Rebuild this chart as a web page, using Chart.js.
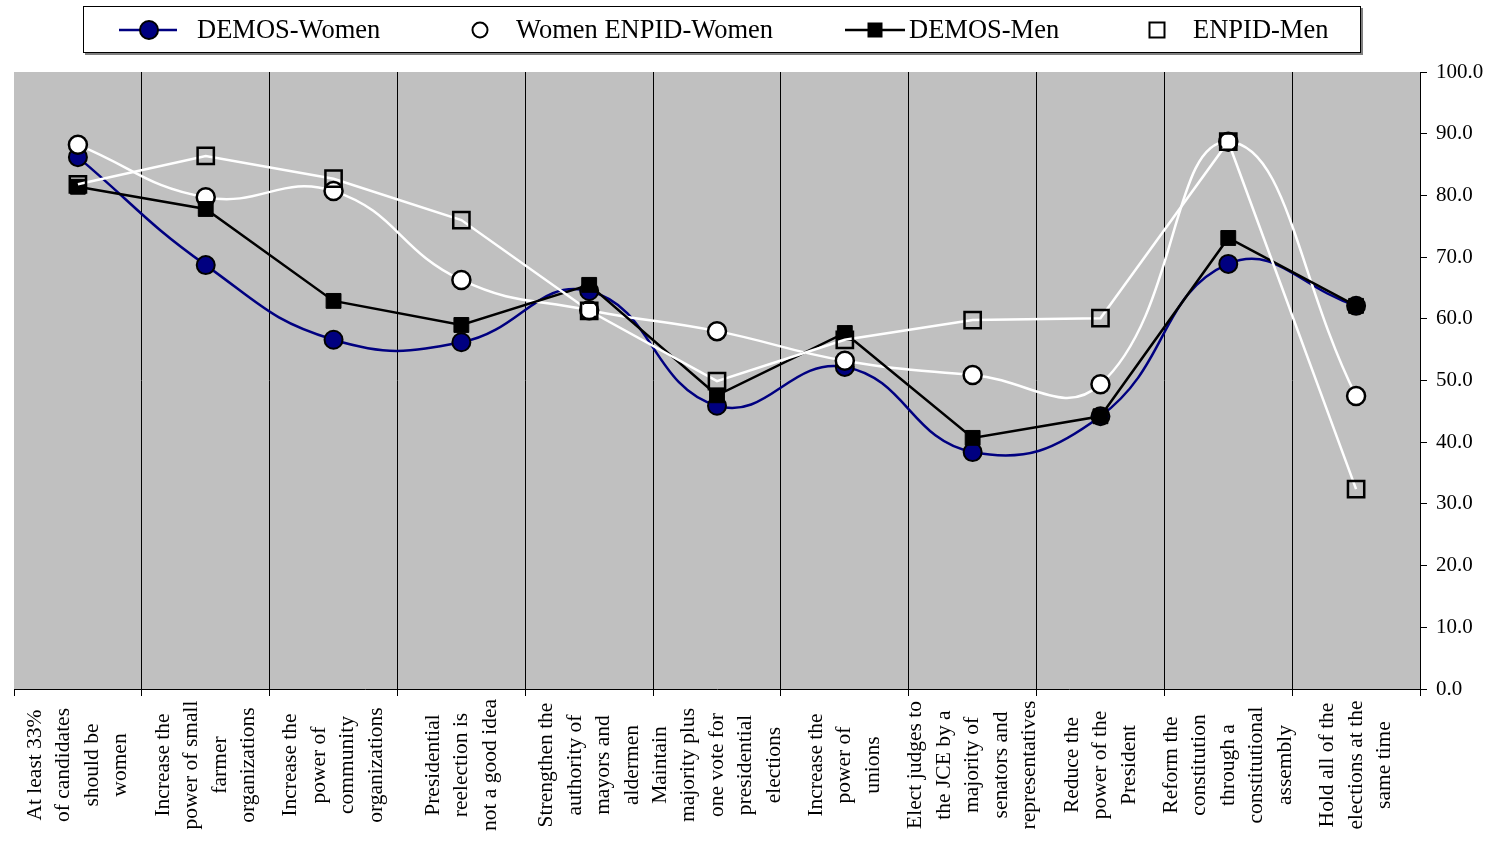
<!DOCTYPE html>
<html>
<head>
<meta charset="utf-8">
<script src="https://cdn.jsdelivr.net/npm/chart.js@4.4.1/dist/chart.umd.min.js"></script>
<style>
  html, body { margin: 0; padding: 0; background: #fff; }
</style>
</head>
<body>
<canvas id="chart" width="1495" height="841"></canvas>
<script>
const categories = [
  ["At least 33%", "of candidates", "should be", "women"],
  ["Increase the", "power of small", "farmer", "organizations"],
  ["Increase the", "power of", "community", "organizations"],
  ["Presidential", "reelection is", "not a good idea"],
  ["Strengthen the", "authority of", "mayors and", "aldermen"],
  ["Maintain", "majority plus", "one vote for", "presidential", "elections"],
  ["Increase the", "power of", "unions"],
  ["Elect judges to", "the JCE by a", "majority of", "senators and", "representatives"],
  ["Reduce the", "power of the", "President"],
  ["Reform the", "constitution", "through a", "constitutional", "assembly"],
  ["Hold all of the", "elections at the", "same time"]
];
const demosWomen = [86.2, 68.7, 56.6, 56.2, 64.5, 45.9, 52.2, 38.4, 44.2, 68.9, 62.1];
const enpidWomen = [88.2, 79.7, 80.7, 66.3, 61.4, 58.0, 53.2, 50.9, 49.4, 88.7, 47.5];
const demosMen = [81.4, 77.8, 62.9, 59.0, 65.5, 47.6, 57.7, 40.7, 44.2, 73.1, 62.1];
const enpidMen = [81.8, 86.4, 82.7, 76.0, 61.3, 49.9, 56.6, 59.8, 60.1, 88.7, 32.4];
const seriesNames = ["DEMOS-Women", "Women ENPID-Women", "DEMOS-Men", "ENPID-Men"];

const FONT = "'Liberation Serif', 'Times New Roman', serif";

// gray plot area
const plotBg = {
  id: "plotBg",
  beforeDraw(chart) {
    const { ctx, chartArea: a } = chart;
    ctx.save();
    ctx.fillStyle = "#c0c0c0";
    ctx.fillRect(a.left, a.top, a.right - a.left, a.bottom - a.top);
    ctx.restore();
  }
};

// category labels, rotated, lines centered
const catLabels = {
  id: "catLabels",
  afterDraw(chart) {
    const { ctx } = chart;
    const x = chart.scales.x;
    ctx.save();
    ctx.fillStyle = "#000";
    ctx.font = "21.5px " + FONT;
    ctx.textAlign = "center";
    ctx.textBaseline = "middle";
    categories.forEach((lines, i) => {
      const cx = x.getPixelForValue(i);
      lines.forEach((ln, j) => {
        const px = cx + (j - (lines.length - 1) / 2) * 28.5;
        ctx.save();
        ctx.translate(px, 765);
        ctx.rotate(-Math.PI / 2);
        ctx.fillText(ln, 0, 0);
        ctx.restore();
      });
    });
    ctx.restore();
  }
};

// boxed legend like the original
const boxLegend = {
  id: "boxLegend",
  afterDraw(chart) {
    const { ctx } = chart;
    const items = [
      { ds: 0, line: [119, 177], mx: 149, tx: 197 },
      { ds: 1, line: null, mx: 480, tx: 516 },
      { ds: 2, line: [845, 905], mx: 875, tx: 909 },
      { ds: 3, line: null, mx: 1157, tx: 1193 }
    ];
    const y = 30;
    ctx.save();
    ctx.fillStyle = "#808080";
    ctx.fillRect(85, 8, 1278, 47);
    ctx.fillStyle = "#fff";
    ctx.fillRect(83, 6, 1278, 47);
    ctx.strokeStyle = "#000";
    ctx.lineWidth = 1;
    ctx.strokeRect(83.5, 6.5, 1277, 46);
    items.forEach(it => {
      const d = chart.data.datasets[it.ds];
      if (it.line) {
        ctx.strokeStyle = d.borderColor;
        ctx.lineWidth = 2.5;
        ctx.beginPath();
        ctx.moveTo(it.line[0], y);
        ctx.lineTo(it.line[1], y);
        ctx.stroke();
      }
      ctx.lineWidth = 2;
      ctx.strokeStyle = "#000";
      if (d.pointStyle === "circle") {
        ctx.fillStyle = d.pointBackgroundColor;
        ctx.beginPath();
        ctx.arc(it.mx, y, it.ds === 0 ? 9 : 7.5, 0, Math.PI * 2);
        ctx.fill();
        ctx.stroke();
      } else {
        const s = it.ds === 2 ? 13 : 15;
        if (d.pointBackgroundColor !== "transparent") {
          ctx.fillStyle = d.pointBackgroundColor;
          ctx.fillRect(it.mx - s / 2, y - s / 2, s, s);
        }
        ctx.strokeRect(it.mx - s / 2, y - s / 2, s, s);
      }
      ctx.fillStyle = "#000";
      ctx.font = "26.5px " + FONT;
      ctx.textAlign = "left";
      ctx.textBaseline = "middle";
      ctx.fillText(d.label, it.tx, y + 1);
    });
    ctx.restore();
  }
};

new Chart(document.getElementById("chart"), {
  type: "line",
  data: {
    labels: categories.map(c => c.join(" ")),
    datasets: [
      {
        label: seriesNames[0],
        data: demosWomen,
        borderColor: "#000080",
        borderWidth: 2.5,
        tension: 0.45,
        pointStyle: "circle",
        pointRadius: 9,
        pointBackgroundColor: "#000080",
        pointBorderColor: "#000",
        pointBorderWidth: 2,
        order: 4
      },
      {
        label: seriesNames[1],
        data: enpidWomen,
        borderColor: "#fff",
        borderWidth: 2.5,
        tension: 0.45,
        pointStyle: "circle",
        pointRadius: 9,
        pointBackgroundColor: "#fff",
        pointBorderColor: "#000",
        pointBorderWidth: 2.5,
        order: 3
      },
      {
        label: seriesNames[2],
        data: demosMen,
        borderColor: "#000",
        borderWidth: 2.5,
        tension: 0,
        pointStyle: "rect",
        pointRadius: 10.5,
        pointBackgroundColor: "#000",
        pointBorderColor: "#000",
        pointBorderWidth: 1,
        order: 2
      },
      {
        label: seriesNames[3],
        data: enpidMen,
        borderColor: "#fff",
        borderWidth: 2.5,
        tension: 0,
        pointStyle: "rect",
        pointRadius: 11.5,
        pointBackgroundColor: "transparent",
        pointBorderColor: "#000",
        pointBorderWidth: 2.5,
        order: 1
      }
    ]
  },
  options: {
    responsive: false,
    animation: false,
    layout: { padding: { top: 72, left: 13, right: 0, bottom: 0 } },
    plugins: { legend: { display: false }, tooltip: { enabled: false } },
    scales: {
      x: {
        offset: true,
        grid: {
          offset: true,
          color: c => (c.index === 0 ? "rgba(0,0,0,0)" : "#000"),
          tickColor: "#000",
          lineWidth: 1,
          tickLength: 7
        },
        border: { display: true, color: "#000", width: 1 },
        ticks: { display: false },
        afterFit(scale) { scale.height = 152; }
      },
      y: {
        position: "right",
        min: 0,
        max: 100,
        ticks: {
          stepSize: 10,
          color: "#000",
          padding: 9,
          font: { family: FONT, size: 21 },
          callback: v => v.toFixed(1)
        },
        grid: { drawOnChartArea: false, drawTicks: true, tickLength: 7, color: "#000" },
        border: { display: true, color: "#000", width: 1 },
        afterFit(scale) { scale.width = 75; }
      }
    }
  },
  plugins: [plotBg, catLabels, boxLegend]
});
</script>
</body>
</html>
